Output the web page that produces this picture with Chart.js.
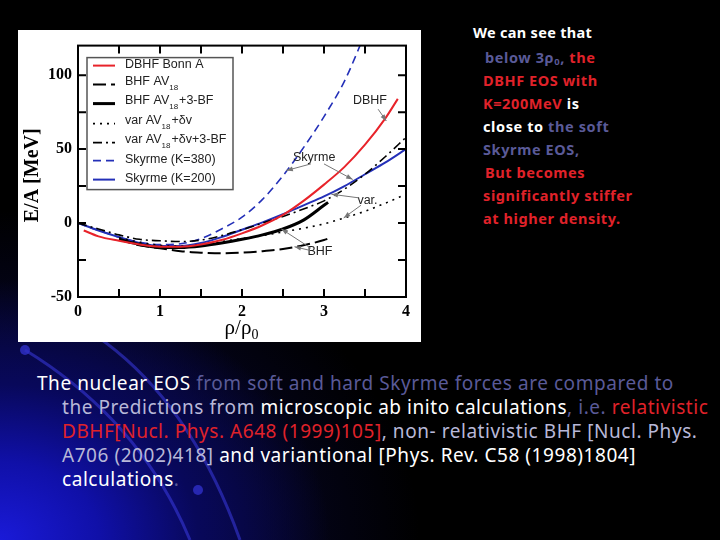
<!DOCTYPE html>
<html>
<head>
<meta charset="utf-8">
<script src="https://cdn.jsdelivr.net/npm/chart.js@4"></script>
<style>
  html, body { margin: 0; padding: 0; }
  body {
    width: 720px; height: 540px; overflow: hidden; position: relative;
    background: #000;
    font-family: "Noto Sans", "DejaVu Sans", sans-serif;
  }
  #bg { position: absolute; left: 0; top: 0; width: 720px; height: 540px;
    background:
      radial-gradient(ellipse 330px 260px at 0% 100%, #1a1ad8 0%, #1010a8 30%, #08085a 60%, rgba(0,0,0,0) 100%),
      radial-gradient(ellipse 420px 330px at 0% 100%, rgba(20,20,140,0.6) 0%, rgba(0,0,0,0) 100%);
  }
  #box { position: absolute; left: 18px; top: 30px; width: 403px; height: 312px; background: #fff; }
  #side { position: absolute; left: 472px; top: 21px; font-weight: bold; font-size: 14.5px; letter-spacing: 0.6px; line-height: 23px; color: #fff; }
  #side div { white-space: nowrap; }
  #bottom { position: absolute; left: 37px; top: 371px; font-size: 19px; letter-spacing: 0.55px; line-height: 24px; color: #fff; width: 690px; }
  #bottom div { white-space: nowrap; }
  .r { color: #e0222a; }
  .g { color: #5a5a98; }
  .l { color: #b8b8d8; }
  sub { font-size: 0.65em; vertical-align: -0.25em; line-height: 0; }
</style>
</head>
<body>
<div id="bg"></div>
<svg width="720" height="540" style="position:absolute;left:0;top:0">
  <g fill="none" stroke="#3a3ae0" stroke-opacity="0.55" stroke-width="3">
    <path d="M25 350 Q 140 420 190 540"/>
    <path d="M95 335 Q 190 400 240 540"/>
  </g>
  <g fill="#3030c8" fill-opacity="0.8">
    <circle cx="25" cy="350" r="5"/>
    <circle cx="95" cy="336" r="6"/>
    <circle cx="198" cy="490" r="5"/>
  </g>
</svg>
<div id="box"><canvas id="c" width="403" height="312"></canvas></div>

<div id="side">
  <div style="margin-left:1px;margin-bottom:2px;letter-spacing:0.3px">We can see that</div>
  <div style="margin-left:13px"><span class="g">below 3ρ<sub>0</sub>,</span> <span class="r">the</span></div>
  <div style="margin-left:11px" class="r">DBHF EOS with</div>
  <div style="margin-left:11px"><span class="r">K=200MeV</span> is</div>
  <div style="margin-left:11px">close to <span class="g">the soft</span></div>
  <div style="margin-left:11px" class="g">Skyrme EOS,</div>
  <div style="margin-left:13px" class="r">But becomes</div>
  <div style="margin-left:11px" class="r">significantly stiffer</div>
  <div style="margin-left:11px" class="r">at higher density.</div>
</div>

<div id="bottom">
  <div>The nuclear EOS <span class="g">from soft and hard Skyrme forces are compared to</span></div>
  <div style="margin-left:25px"><span class="l">the Predictions from</span> microscopic ab inito calculations<span class="g">, i.e.</span> <span class="r">relativistic</span></div>
  <div style="margin-left:25px"><span class="r">DBHF[Nucl. Phys. A648 (1999)105]</span><span class="l">, non- relativistic BHF [Nucl. Phys.</span></div>
  <div style="margin-left:25px"><span class="l">A706 (2002)418]</span> and variantional [Phys. Rev. C58 (1998)1804]</div>
  <div style="margin-left:25px">calculations<span class="g">.</span></div>
</div>

<script>
// ── Data ────────────────────────────────────────────────────────────────
const xTickValues = [0, 1, 2, 3, 4];
const yTickValues = [-50, 0, 50, 100];

const dbhfRho = [0.07, 0.25, 0.5, 0.75, 1, 1.25, 1.5, 1.75, 2, 2.25, 2.5, 2.75, 3, 3.25, 3.5, 3.75, 3.9];
const dbhfE   = [-5, -9, -12, -14.5, -16, -16, -14.5, -11.5, -7, -1.5, 5.5, 15, 26, 38, 53, 71, 84];

const bhfRho  = [0.5, 0.75, 1, 1.25, 1.5, 1.75, 2, 2.25, 2.5, 2.75, 3, 3.05];
const bhfE    = [-11, -15, -17, -19, -20, -20.5, -20, -19, -17.5, -15, -11.5, -10.5];
const bhf3E   = [-11, -14.5, -16.5, -16.5, -15.5, -13.5, -11, -8, -4, 2, 12, 14];

const varRho  = [0.5, 0.75, 1, 1.25, 1.5, 1.75, 2, 2.25, 2.5, 2.75, 3, 3.25, 3.5, 3.75, 4];
const varE    = [-10, -13, -15, -15.5, -14.5, -12.5, -10.5, -8.5, -6, -3.5, -0.5, 3.5, 8, 13.5, 19.5];

const rho     = [0, 0.25, 0.5, 0.75, 1, 1.25, 1.5, 1.75, 2, 2.25, 2.5, 2.75, 3, 3.25, 3.5, 3.75, 4];
const var3E   = [0, -4, -8, -11, -12, -12.5, -11.5, -8.5, -4.5, 0, 4.5, 9.5, 15, 23, 33, 45, 58];
const sky200E = [0, -5, -9.5, -13.5, -15.5, -15.5, -13.5, -9.5, -4.5, 0.5, 6, 12, 18, 25, 33, 41, 50];

const sky380Rho = [0, 0.25, 0.5, 0.75, 1, 1.25, 1.5, 1.75, 2, 2.25, 2.5, 2.75, 3, 3.25, 3.5];
const sky380E   = [0, -5, -9.5, -13, -14.5, -14, -10.5, -4, 4, 16, 32, 51, 72, 96, 128];

// legend entries: text parts, [text, isSubscript]
const legendLabels = [
  [['DBHF Bonn A', 0]],
  [['BHF AV', 0], ['18', 1]],
  [['BHF AV', 0], ['18', 1], ['+3-BF', 0]],
  [['var AV', 0], ['18', 1], ['+δv', 0]],
  [['var AV', 0], ['18', 1], ['+δv+3-BF', 0]],
  [['Skyrme (K=380)', 0]],
  [['Skyrme (K=200)', 0]]
];

// curve labels with arrows [text, x, y, arrows[[x1,y1,x2,y2]]]
const notes = [
  ['DBHF', 3.56, 83, [[3.66, 77, 3.76, 69]]],
  ['Skyrme', 2.88, 44.5, [[2.84, 40, 2.54, 35.5], [3.0, 40, 3.35, 29.5]]],
  ['var.', 3.53, 15.3, [[3.43, 17, 3.09, 19.5], [3.45, 12, 3.24, 3.5]]],
  ['BHF', 2.95, -19.6, [[2.84, -17, 2.48, -4], [2.83, -18.5, 2.64, -16]]]
];

const zip = (xs, ys) => xs.map((x, i) => ({ x, y: ys[i] }));

const BLK = '#000';
const RED = '#e8232a';
const BLUE = '#2430b8';

const datasets = [
  { data: zip(dbhfRho, dbhfE), borderColor: RED, borderWidth: 2 },
  { data: zip(bhfRho, bhfE), borderColor: BLK, borderWidth: 2, borderDash: [13, 5] },
  { data: zip(bhfRho, bhf3E), borderColor: BLK, borderWidth: 3 },
  { data: zip(varRho, varE), borderColor: BLK, borderWidth: 1.6, borderDash: [2, 5] },
  { data: zip(rho, var3E), borderColor: BLK, borderWidth: 1.6, borderDash: [9, 4, 2, 4] },
  { data: zip(sky380Rho, sky380E), borderColor: BLUE, borderWidth: 1.6, borderDash: [8, 5] },
  { data: zip(rho, sky200E), borderColor: BLUE, borderWidth: 2 }
].map(d => Object.assign({ pointRadius: 0, tension: 0.4, fill: false, cubicInterpolationMode: 'monotone' }, d));

// ── Frame, ticks, legend, notes, titles ─────────────────────────────────
const extras = {
  id: 'extras',
  afterDraw(chart) {
    const { ctx, chartArea: a, scales: { x, y } } = chart;
    ctx.save();

    // frame
    ctx.strokeStyle = '#000';
    ctx.lineWidth = 2;
    ctx.strokeRect(a.left, a.top, a.right - a.left, a.bottom - a.top);

    // inward ticks, major + minor, on all four sides
    ctx.lineWidth = 2;
    const tl = 8;
    ctx.beginPath();
    for (let v = 0.5; v < 4; v += 0.5) {
      const px = x.getPixelForValue(v);
      ctx.moveTo(px, a.bottom); ctx.lineTo(px, a.bottom - tl);
      ctx.moveTo(px, a.top); ctx.lineTo(px, a.top + tl);
    }
    for (let v = -25; v <= 100; v += 25) {
      const py = y.getPixelForValue(v);
      ctx.moveTo(a.left, py); ctx.lineTo(a.left + tl, py);
      ctx.moveTo(a.right, py); ctx.lineTo(a.right - tl, py);
    }
    ctx.stroke();

    // legend
    const lx = a.left + 9, ly = a.top + 12, lw = 146, lh = 132;
    ctx.fillStyle = '#fff';
    ctx.fillRect(lx, ly, lw, lh);
    ctx.strokeStyle = '#555';
    ctx.lineWidth = 1.5;
    ctx.strokeRect(lx, ly, lw, lh);
    const rowY = [20, 39, 58, 78, 97, 115, 134];
    legendLabels.forEach((parts, i) => {
      const ds = datasets[i];
      const yy = a.top + rowY[i];
      ctx.strokeStyle = ds.borderColor;
      ctx.lineWidth = ds.borderWidth;
      ctx.setLineDash(ds.borderDash || []);
      ctx.beginPath();
      ctx.moveTo(lx + 6, yy); ctx.lineTo(lx + 28, yy);
      ctx.stroke();
      ctx.setLineDash([]);
      let tx = lx + 38;
      const hasSub = parts.length > 1;
      const ty = yy - (hasSub ? 3 : 1);
      ctx.fillStyle = '#222';
      ctx.textBaseline = 'middle';
      ctx.textAlign = 'left';
      parts.forEach(([t, sub]) => {
        ctx.font = sub ? '8px "Liberation Sans"' : '12.5px "Liberation Sans"';
        ctx.fillText(t, tx, sub ? ty + 6 : ty);
        tx += ctx.measureText(t).width + (sub ? 1 : 0);
      });
    });

    // curve labels and arrows
    ctx.font = '12.5px "Liberation Sans"';
    ctx.textAlign = 'center';
    ctx.textBaseline = 'middle';
    notes.forEach(([t, nx, ny, arrows]) => {
      ctx.fillStyle = '#222';
      ctx.fillText(t, x.getPixelForValue(nx), y.getPixelForValue(ny));
      ctx.strokeStyle = '#777';
      ctx.fillStyle = '#777';
      ctx.lineWidth = 1;
      arrows.forEach(([x1, y1, x2, y2]) => {
        const p1 = [x.getPixelForValue(x1), y.getPixelForValue(y1)];
        const p2 = [x.getPixelForValue(x2), y.getPixelForValue(y2)];
        ctx.beginPath();
        ctx.moveTo(p1[0], p1[1]); ctx.lineTo(p2[0], p2[1]);
        ctx.stroke();
        const ang = Math.atan2(p2[1] - p1[1], p2[0] - p1[0]);
        ctx.beginPath();
        ctx.moveTo(p2[0], p2[1]);
        ctx.lineTo(p2[0] - 7 * Math.cos(ang - 0.35), p2[1] - 7 * Math.sin(ang - 0.35));
        ctx.lineTo(p2[0] - 7 * Math.cos(ang + 0.35), p2[1] - 7 * Math.sin(ang + 0.35));
        ctx.closePath();
        ctx.fill();
      });
    });

    // axis titles
    ctx.fillStyle = '#000';
    ctx.textAlign = 'center';
    ctx.textBaseline = 'middle';
    ctx.save();
    ctx.translate(15, (a.top + a.bottom) / 2 + 4);
    ctx.rotate(-Math.PI / 2);
    ctx.font = 'bold 20px "Liberation Serif"';
    ctx.fillText('E/A [MeV]', 0, 0);
    ctx.restore();

    ctx.font = '21px "Liberation Serif"';
    ctx.textAlign = 'left';
    const xt = 'ρ/ρ';
    const w = ctx.measureText(xt).width;
    const cx = (a.left + a.right) / 2 - (w + 8) / 2;
    ctx.fillText(xt, cx, 298);
    ctx.font = '14px "Liberation Serif"';
    ctx.fillText('0', cx + w, 305);

    ctx.restore();
  }
};

new Chart(document.getElementById('c'), {
  type: 'line',
  data: { datasets },
  options: {
    responsive: false,
    animation: false,
    layout: { padding: { left: 0, top: 13, right: 15, bottom: 0 } },
    plugins: { legend: { display: false }, tooltip: { enabled: false } },
    scales: {
      x: {
        type: 'linear', min: 0, max: 4,
        afterFit: s => { s.height = 45; },
        afterBuildTicks: s => { s.ticks = xTickValues.map(value => ({ value })); },
        grid: { display: false, drawTicks: false },
        border: { display: false },
        ticks: { color: '#000', padding: 5, maxRotation: 0, font: { family: 'Liberation Serif', weight: 'bold', size: 16 } }
      },
      y: {
        type: 'linear', min: -50, max: 120,
        afterFit: s => { s.width = 60; },
        afterBuildTicks: s => { s.ticks = yTickValues.map(value => ({ value })); },
        grid: { display: false, drawTicks: false },
        border: { display: false },
        ticks: { color: '#000', padding: 6, font: { family: 'Liberation Serif', weight: 'bold', size: 16 } }
      }
    }
  },
  plugins: [extras]
});
</script>
</body>
</html>
